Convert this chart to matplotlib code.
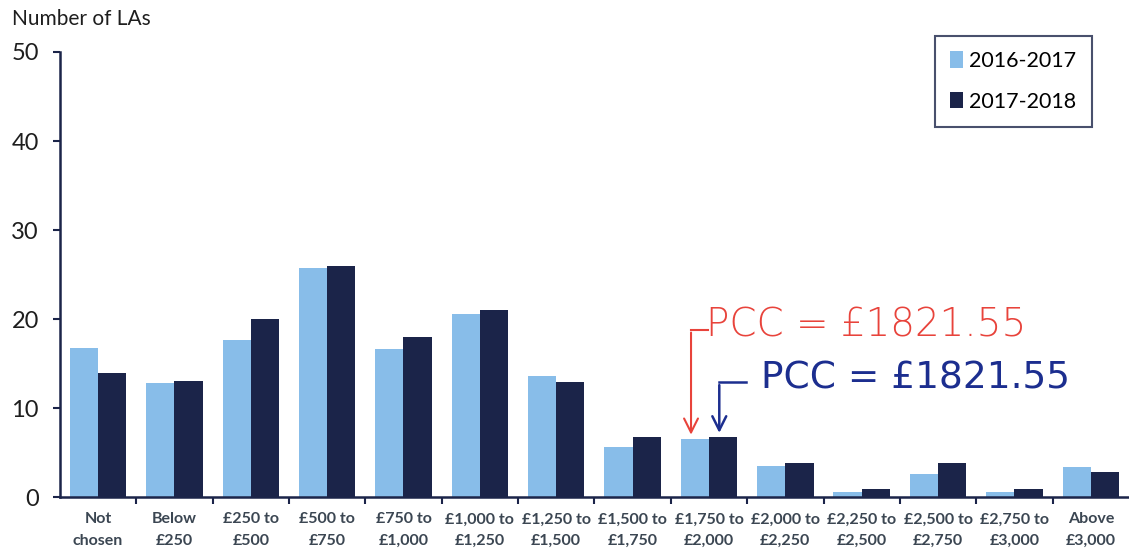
import numpy as np
import matplotlib
matplotlib.use("Agg")
import matplotlib.pyplot as plt

categories = [
    "Not\nchosen", "Below\n£250", "£250 to\n£500", "£500 to\n£750",
    "£750 to\n£1,000", "£1,000 to\n£1,250", "£1,250 to\n£1,500",
    "£1,500 to\n£1,750", "£1,750 to\n£2,000", "£2,000 to\n£2,250",
    "£2,250 to\n£2,500", "£2,500 to\n£2,750", "£2,750 to\n£3,000",
    "Above\n£3,000",
]
la_2016_17 = [16.8, 12.8, 17.7, 25.7, 16.6, 20.6, 13.6, 5.6, 6.5, 3.5, 0.6, 2.6, 0.6, 3.4]
la_2017_18 = [14.0, 13.1, 20.0, 26.0, 18.0, 21.0, 12.9, 6.7, 6.7, 3.8, 0.9, 3.8, 0.9, 2.8]
series_labels = ["2016-2017", "2017-2018"]

pcc_label = "PCC = £1821.55"
pcc_band = 8  # £1,750 to £2,000

LIGHT = "#88bde9"
DARK = "#1b2449"
AXIS = "#1b2449"
TEXT = "#1e1e1e"
LABEL = "#3b4652"

plt.rcParams["font.family"] = ["Lato", "DejaVu Sans"]

fig = plt.figure(figsize=(11.29, 5.53), dpi=100)
ax = fig.add_axes([0.053, 0.101, 0.947, 0.805])

x = np.arange(len(categories))
w = 0.37
ax.bar(x - w / 2, la_2016_17, width=w, color=LIGHT, label=series_labels[0])
ax.bar(x + w / 2, la_2017_18, width=w, color=DARK, label=series_labels[1])

ax.set_xlim(-0.5, len(categories) - 0.5)
ax.set_ylim(0, 50)
ax.set_yticks(range(0, 51, 10))
ax.tick_params(axis="y", direction="out", length=5, width=1.5, color=AXIS,
               labelsize=17, labelcolor=TEXT, pad=10)

ax.set_xticks(x)
ax.set_xticklabels(categories, fontsize=11.5, fontweight="bold", color=LABEL,
                   linespacing=1.7)
ax.tick_params(axis="x", length=0, pad=11)
ax.set_xticks(x[:-1] + 0.5, minor=True)
ax.tick_params(axis="x", which="minor", direction="out", length=5, width=1.5,
               color=AXIS)

for side in ("top", "right"):
    ax.spines[side].set_visible(False)
for side in ("left", "bottom"):
    ax.spines[side].set_color(AXIS)
    ax.spines[side].set_linewidth(1.8)

fig.text(0.011, 0.966, "Number of LAs", fontsize=15, color=TEXT, va="center")

leg = ax.legend(loc="upper right", bbox_to_anchor=(0.975, 1.06), fontsize=15.5,
                frameon=True, fancybox=False, edgecolor=AXIS, handlelength=0.6,
                handleheight=0.8, handletextpad=0.3, labelspacing=0.95,
                borderpad=0.7)
leg.get_frame().set_linewidth(1.5)

# hand-drawn PCC markers pointing at the band containing the PCC amount
red_x = pcc_band - w / 2 - 0.05
blue_x = pcc_band + w / 2 - 0.05
ax.annotate("", xy=(red_x, la_2016_17[pcc_band] + 0.2), xytext=(red_x, 18.8),
            arrowprops=dict(arrowstyle="->", color="#e8433b", lw=1.5,
                            mutation_scale=25))
ax.plot([red_x, red_x + 0.22], [18.8, 18.8], color="#e8433b", lw=1.5)
ax.text(red_x + 0.2, 19.3, pcc_label, color="#e8433b", fontsize=28,
        fontweight="light", family=["DejaVu Sans"], va="center")

ax.annotate("", xy=(blue_x, la_2017_18[pcc_band] + 0.2), xytext=(blue_x, 12.9),
            arrowprops=dict(arrowstyle="->", color="#1c2e8f", lw=1.8,
                            mutation_scale=25))
ax.plot([blue_x, blue_x + 0.35], [12.9, 12.9], color="#1c2e8f", lw=1.8)
ax.text(blue_x + 0.55, 13.3, pcc_label, color="#1c2e8f", fontsize=27,
        family=["DejaVu Sans"], va="center")

fig.savefig("out.png", dpi=100, facecolor="white")
